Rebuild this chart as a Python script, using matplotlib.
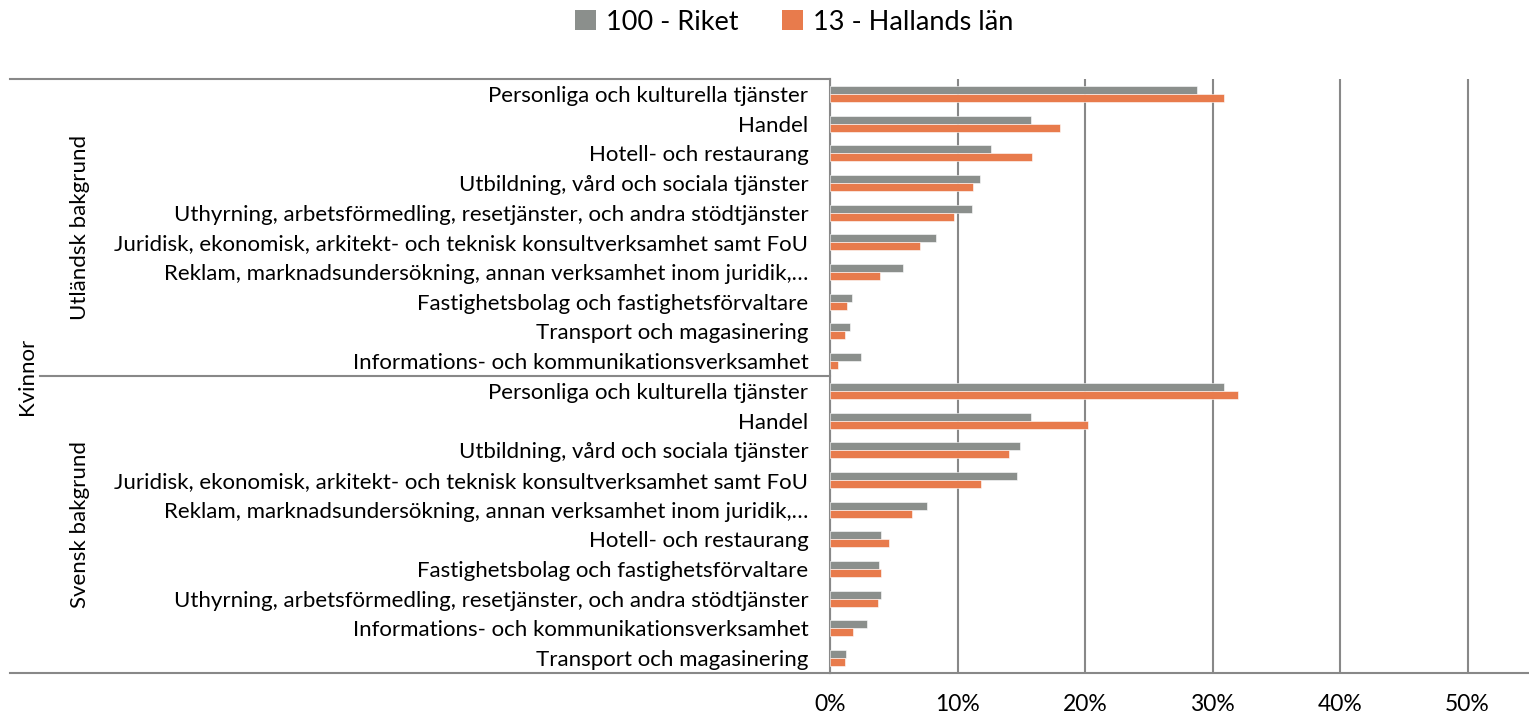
import matplotlib
matplotlib.use("Agg")
import matplotlib.pyplot as plt
from matplotlib.patches import Patch
from matplotlib.lines import Line2D
import numpy as np

plt.rcParams['font.family'] = ['Lato', 'DejaVu Sans']

utl_categories = [
    "Personliga och kulturella tjänster",
    "Handel",
    "Hotell- och restaurang",
    "Utbildning, vård och sociala tjänster",
    "Uthyrning, arbetsförmedling, resetjänster, och andra stödtjänster",
    "Juridisk, ekonomisk, arkitekt- och teknisk konsultverksamhet samt FoU",
    "Reklam, marknadsundersökning, annan verksamhet inom juridik,…",
    "Fastighetsbolag och fastighetsförvaltare",
    "Transport och magasinering",
    "Informations- och kommunikationsverksamhet",
]
utl_riket = [28.8, 15.7, 12.6, 11.7, 11.1, 8.3, 5.7, 1.7, 1.5, 2.4]
utl_halland = [30.9, 18.0, 15.8, 11.2, 9.7, 7.0, 3.9, 1.3, 1.1, 0.6]

sv_categories = [
    "Personliga och kulturella tjänster",
    "Handel",
    "Utbildning, vård och sociala tjänster",
    "Juridisk, ekonomisk, arkitekt- och teknisk konsultverksamhet samt FoU",
    "Reklam, marknadsundersökning, annan verksamhet inom juridik,…",
    "Hotell- och restaurang",
    "Fastighetsbolag och fastighetsförvaltare",
    "Uthyrning, arbetsförmedling, resetjänster, och andra stödtjänster",
    "Informations- och kommunikationsverksamhet",
    "Transport och magasinering",
]
sv_riket = [30.9, 15.7, 14.9, 14.6, 7.6, 4.0, 3.8, 4.0, 2.9, 1.2]
sv_halland = [32.0, 20.2, 14.0, 11.8, 6.4, 4.6, 4.0, 3.7, 1.8, 1.1]

group_labels = ["Utländsk bakgrund", "Svensk bakgrund"]
top_label = "Kvinnor"
series_names = ["100 - Riket", "13 - Hallands län"]
xticks = [0, 10, 20, 30, 40, 50]
xtick_labels = ["0%", "10%", "20%", "30%", "40%", "50%"]

GRAY = "#8B8F8C"
ORANGE = "#E87B4C"
LINE = "#888888"

W, H = 1529, 717
fig = plt.figure(figsize=(W / 100, H / 100), dpi=100)
ax_left, ax_right, ax_top, ax_bot = 830.5, 1529, 79, 673
ax = fig.add_axes([ax_left / W, 1 - ax_bot / H, (ax_right - ax_left) / W, (ax_bot - ax_top) / H])

cats = utl_categories + sv_categories
riket = utl_riket + sv_riket
halland = utl_halland + sv_halland
y = np.arange(len(cats))
bh = 0.27
ax.barh(y - bh / 2, riket, height=bh, color=GRAY, edgecolor="white", linewidth=0.4, zorder=3)
ax.barh(y + bh / 2, halland, height=bh, color=ORANGE, edgecolor="white", linewidth=0.4, zorder=3)

ax.set_ylim(len(cats) - 0.5, -0.5)
ax.set_xlim(0, (ax_right - ax_left) / 12.74)
ax.set_xticks(xticks)
ax.set_xticklabels(xtick_labels, fontsize=16.5)
ax.tick_params(axis='x', length=0, pad=15)
ax.set_yticks(y)
ax.set_yticklabels(cats, fontsize=16)
ax.tick_params(axis='y', length=0, pad=16)
for s in ["top", "right"]:
    ax.spines[s].set_visible(False)
ax.spines["left"].set_color(LINE)
ax.spines["left"].set_linewidth(1.5)
ax.spines["bottom"].set_color(LINE)
ax.spines["bottom"].set_linewidth(1.5)
ax.grid(axis='x', color=LINE, linewidth=1.5, zorder=0)
ax.set_axisbelow(True)

# multi-level category lines (figure pixel coords)
def fx(px):
    return px / W
def fy(py):
    return 1 - py / H
for (x0, x1, yy) in [(10, 830.5, 79), (10, 830.5, 673), (40, 830.5, 375.5)]:
    fig.add_artist(Line2D([fx(x0), fx(x1)], [fy(yy), fy(yy)], color=LINE, linewidth=1.5))

fig.text(fx(80), fy(227), group_labels[0], rotation=90, ha='center', va='center', fontsize=16)
fig.text(fx(80), fy(524), group_labels[1], rotation=90, ha='center', va='center', fontsize=16)
fig.text(fx(27), fy(376), top_label, rotation=90, ha='center', va='center', fontsize=16)

handles = [Patch(facecolor=GRAY, edgecolor='none'), Patch(facecolor=ORANGE, edgecolor='none')]
fig.legend(handles, series_names, loc='center', bbox_to_anchor=(fx(794), fy(22)), ncol=2,
           frameon=False, fontsize=19.5, handlelength=0.8, handleheight=0.8,
           handletextpad=0.35, columnspacing=1.6, borderpad=0)

fig.savefig("out.png", dpi=100)
